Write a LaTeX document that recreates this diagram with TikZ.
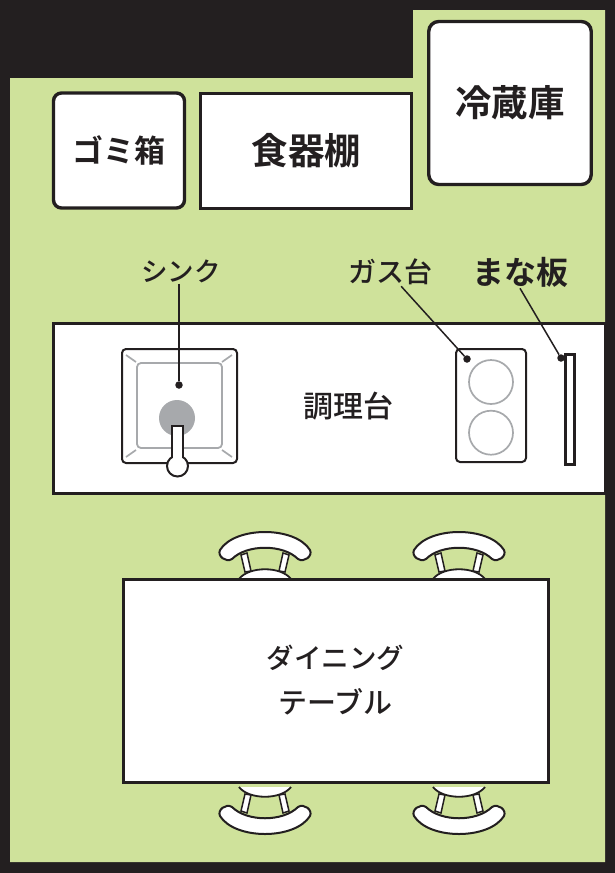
\documentclass[tikz,border=0pt]{standalone}
\usepackage{fontspec}
\setmainfont{Noto Sans CJK JP Medium}[BoldFont={Noto Sans CJK JP Bold}]
\usetikzlibrary{positioning}
\definecolor{wallblack}{HTML}{231F20}
\definecolor{floorgreen}{HTML}{CFE29B}
\definecolor{linegrey}{HTML}{A7A9AC}
\tikzset{
  furniture/.style={draw=wallblack,fill=white,line width=3pt,inner sep=0pt,text=wallblack,font=\bfseries\fontsize{36.5}{36}\selectfont},
  roundbox/.style={furniture,line width=3.4pt,rounded corners=8pt},
  fixture/.style={draw=wallblack,fill=white,line width=2pt,rounded corners=4pt,inner sep=0pt},
  pointer/.style={draw=wallblack,line width=1.5pt},
  pointerdot/.style={circle,fill=wallblack,inner sep=0pt,minimum size=7.5pt},
  namelabel/.style={text=wallblack,inner sep=1pt},
  burner/.style={circle,draw=linegrey,line width=1.7pt,minimum size=44pt,inner sep=0pt},
  chair/.pic={
    \foreach \side in {1,-1}
      \draw[draw=wallblack,fill=white,line width=1.5pt,xscale=\side] (-24,-24) -- (-18,-26) -- (-14,-8) -- (-20,-7) -- cycle;
    \draw[draw=wallblack,fill=white,line width=1.8pt] (-26,0) .. controls (-16,-13) and (16,-13) .. (26,0);
    \draw[draw=wallblack,fill=white,line width=2pt] (-33,-20) .. controls (-18,-35) and (18,-35) .. (33,-20)
      .. controls (39,-16) and (48,-23) .. (45,-29) .. controls (30,-53) and (-30,-53) .. (-45,-29)
      .. controls (-48,-23) and (-39,-16) .. (-33,-20) -- cycle;
  }
}
\begin{document}
\begin{tikzpicture}[x=1pt,y=-1pt]
  \useasboundingbox (0,0) rectangle (615,873);
  \fill[wallblack] (0,0) rectangle (615,873);
  \fill[floorgreen] (10,78) -- (413,78) -- (413,10) -- (605,10) -- (605,862) -- (10,862) -- cycle;

  \node[roundbox,minimum width=131pt,minimum height=115pt,font=\bfseries\fontsize{31}{31}\selectfont] (trash) at (119,150.5) {ゴミ箱};
  \node[furniture,minimum width=211pt,minimum height=115pt] (shelf) at (306,150.5) {\hspace{1pt}食器棚};
  \node[roundbox,rounded corners=10pt,minimum width=162.5pt,minimum height=163pt] (fridge) at (510,103) {冷蔵庫};

  \node[furniture,minimum width=552pt,minimum height=170pt] (counter) at (329,408) {};
  \node[namelabel,font=\fontsize{30}{30}\selectfont] (counterlabel) at (348,406) {調理台};

  % sink
  \node[fixture,minimum width=115pt,minimum height=114pt] (sink) at (179.5,406) {};
  \node[draw=linegrey,line width=1.8pt,rounded corners=4pt,minimum width=85pt,minimum height=85pt,inner sep=0pt] (basin) at (179.5,405.5) {};
  \draw[linegrey,line width=1.7pt] (126,355) -- (136,362) (232,355) -- (222,362) (126,457) -- (136,450) (232,457) -- (222,450);
  \node[circle,fill=linegrey,minimum size=36pt,inner sep=0pt] (drain) at (177,418) {};
  \draw[draw=wallblack,fill=white,line width=2pt] (172,458) -- (172,426) -- (183,426) -- (183,458);
  \node[circle,draw=wallblack,fill=white,line width=2pt,minimum size=21pt,inner sep=0pt] (faucet) at (177.5,466) {};
  \draw[white,line width=9pt] (177.5,450) -- (177.5,460);

  % stove
  \node[fixture,minimum width=70pt,minimum height=113pt] (stove) at (491,405.5) {};
  \node[burner] (burnerup) at (491,382) {};
  \node[burner,below=5pt of burnerup] (burnerdown) {};

  % board
  \node[draw=wallblack,fill=white,line width=3.6pt,minimum width=9pt,minimum height=110pt,inner sep=0pt] (board) at (570,409.5) {};

  \node[namelabel,font=\fontsize{26.5}{27}\selectfont] (sinklabel) at (181,271) {シンク};
  \node[namelabel,font=\fontsize{28}{28}\selectfont] (stovelabel) at (390,272) {ガス台};
  \node[namelabel,font=\bfseries\fontsize{32}{32}\selectfont] (boardlabel) at (520,272) {まな板};

  \node[pointerdot] (sinkdot) at (179,385) {};
  \node[pointerdot] (stovedot) at (467,359) {};
  \node[pointerdot] (boarddot) at (561,358) {};
  \draw[pointer] (sinklabel.south -| sinkdot) -- (sinkdot);
  \draw[pointer] (stovelabel.-52) -- (stovedot);
  \draw[pointer] (boardlabel.south) -- (boarddot);

  % chairs
  \foreach \chairx in {265,459} {
    \pic at (\chairx,579) {chair};
    \pic[yscale=-1] at (\chairx,787) {chair};
  }
  \node[furniture,minimum width=425pt,minimum height=203pt,align=center,font=\fontsize{27.5}{45}\selectfont] (table) at (335.5,680.5) {ダイニング\\{\fontsize{29}{45}\selectfont テーブル}};
\end{tikzpicture}
\end{document}
